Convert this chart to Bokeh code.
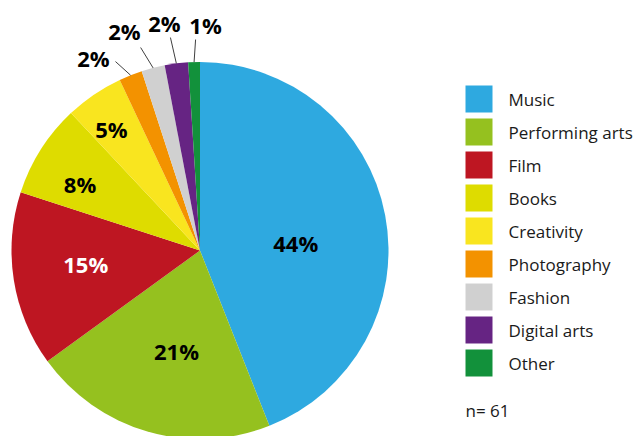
import numpy as np
from bokeh.plotting import figure
from bokeh.models import Range1d, ColumnDataSource
from bokeh.core.properties import value
from bokeh.embed import file_html
from bokeh.resources import INLINE

# ---- data ----
categories = ["Music", "Performing arts", "Film", "Books", "Creativity",
              "Photography", "Fashion", "Digital arts", "Other"]
percent = [44, 21, 15, 8, 5, 2, 2, 2, 1]
sample_note = "n= 61"

# ---- styles ----
colors = ["#2EA9E0", "#95C11F", "#BE1622", "#DEDC00", "#F9E51F",
          "#F39200", "#D0D0D0", "#662483", "#12913B"]
label_colors = ["black", "black", "white", "black", "black",
                "black", "black", "black", "black"]

# ---- layout ----
W, H = 637, 436
CX, CY, R = 199.5, -250.0, 188.5
label_angle_shift = [6.6, -3.0, 2.5, -3.5, -2.0, -7.4, -4.6, -1.7, 3.2]
label_radius = [96, 103, 115, 137, 150, 220, 232, 230, 226]
outside = [False, False, False, False, False, True, True, True, True]
leader_angle_shift = [0, 0, 0, 0, 0, -2.5, -1.9, -0.7, 0.6]
leader_radius = [0, 0, 0, 0, 0, 207, 211.5, 215, 211]
LEG_X, LEG_Y0, LEG_STEP, LEG_SIZE, LEG_TX = 478.5, -98.5, 33, 27, 508
NOTE_Y = -409.5
FONT = "Open Sans"

vals = np.array(percent, dtype=float)
frac = vals / vals.sum()
cum_end = np.cumsum(frac)
cum_start = cum_end - frac
start_angle = np.pi / 2 - 2 * np.pi * cum_start
end_angle = np.pi / 2 - 2 * np.pi * cum_end
mid_deg = (cum_start + frac / 2) * 360.0

p = figure(width=W, height=H, x_range=Range1d(0, W), y_range=Range1d(-H, 0),
           output_backend="svg", toolbar_location=None, min_border=0)
p.axis.visible = False
p.grid.visible = False
p.outline_line_color = None
p.background_fill_color = "white"
p.border_fill_color = "white"

src = ColumnDataSource(dict(cat=categories, start=start_angle, end=end_angle, color=colors))
p.wedge(x=CX, y=CY, radius=R, start_angle="start", end_angle="end", direction="clock",
        fill_color="color", line_color=None, source=src)

# labels
lx, ly, ltxt, lcol = [], [], [], []
ax0, ay0, ax1, ay1 = [], [], [], []
for i, pc in enumerate(percent):
    th = np.radians(mid_deg[i] + label_angle_shift[i])
    lx.append(CX + label_radius[i] * np.sin(th))
    ly.append(CY + label_radius[i] * np.cos(th))
    ltxt.append(f"{pc}%")
    lcol.append(label_colors[i])
    if outside[i]:
        t0 = np.radians(mid_deg[i])
        t1 = np.radians(mid_deg[i] + leader_angle_shift[i])
        ax0.append(CX + R * np.sin(t0)); ay0.append(CY + R * np.cos(t0))
        ax1.append(CX + leader_radius[i] * np.sin(t1)); ay1.append(CY + leader_radius[i] * np.cos(t1))

p.segment(x0=ax0, y0=ay0, x1=ax1, y1=ay1, line_color="#404040", line_width=1)
p.text(x=lx, y=ly, text=ltxt, text_color=lcol, text_font=value(FONT),
       text_font_style="bold", text_font_size="22px", text_align="center",
       text_baseline="middle")

# legend
n = len(categories)
leg_y = [LEG_Y0 - i * LEG_STEP for i in range(n)]
p.rect(x=[LEG_X] * n, y=leg_y, width=LEG_SIZE, height=LEG_SIZE, fill_color=colors,
       line_color=None)
p.text(x=[LEG_TX] * n, y=leg_y, text=categories, text_color="#1a1a1a",
       text_font=value(FONT), text_font_size="17px", text_align="left",
       text_baseline="middle")
p.text(x=[LEG_X - LEG_SIZE / 2], y=[NOTE_Y], text=[sample_note], text_color="#1a1a1a",
       text_font=value(FONT), text_font_size="17px", text_align="left",
       text_baseline="middle")

open("out.html", "w").write(file_html(p, INLINE))
